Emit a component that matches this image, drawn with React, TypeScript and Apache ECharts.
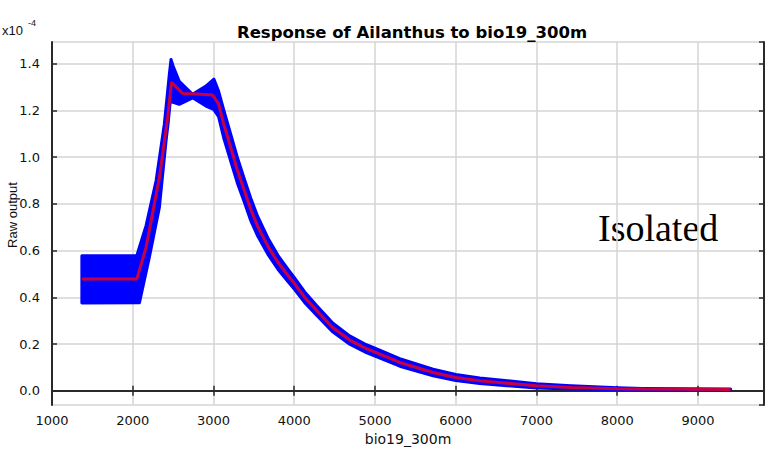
import React, { useEffect, useRef } from 'react';
import * as echarts from 'echarts';

// Mean response (red line), values in units of 1e-4
const meanX = [1370, 2050, 2165, 2330, 2432, 2481, 2540, 2617, 2800, 2990, 3063, 3126, 3210, 3294, 3378, 3462, 3546, 3672, 3798, 3924, 4000, 4130, 4274, 4480, 4687, 4893, 5000, 5307, 5720, 6000, 6298, 7000, 7428, 8000, 8317, 9404];
const meanY = [0.478, 0.478, 0.614, 0.913, 1.169, 1.321, 1.300, 1.273, 1.270, 1.266, 1.228, 1.143, 1.045, 0.946, 0.861, 0.776, 0.705, 0.620, 0.550, 0.493, 0.460, 0.400, 0.345, 0.270, 0.217, 0.180, 0.165, 0.121, 0.078, 0.057, 0.043, 0.021, 0.014, 0.009, 0.007, 0.005];

// Upper envelope of the replicate runs (blue band), left to right
const upperX = [1370, 2050, 2165, 2289, 2391, 2453, 2474, 2500, 2576, 2741, 2906, 3005, 3063, 3126, 3210, 3294, 3378, 3462, 3546, 3672, 3798, 3924, 4000, 4130, 4274, 4480, 4687, 4893, 5000, 5307, 5720, 6000, 6298, 7000, 7428, 8000, 8317, 9404];
const upperY = [0.578, 0.578, 0.707, 0.899, 1.141, 1.354, 1.418, 1.390, 1.325, 1.269, 1.304, 1.334, 1.283, 1.203, 1.103, 1.001, 0.911, 0.824, 0.747, 0.655, 0.580, 0.520, 0.485, 0.423, 0.366, 0.289, 0.235, 0.197, 0.182, 0.137, 0.092, 0.070, 0.055, 0.030, 0.021, 0.013, 0.010, 0.007];

// Lower envelope of the replicate runs, left to right
const lowerX = [1370, 2083, 2206, 2330, 2412, 2440, 2465, 2500, 2576, 2741, 2906, 3000, 3063, 3126, 3210, 3294, 3378, 3462, 3546, 3672, 3798, 3924, 4000, 4130, 4274, 4480, 4687, 4893, 5000, 5307, 5720, 6000, 6298, 7000, 7428, 8000, 8317, 9404];
const lowerY = [0.376, 0.377, 0.572, 0.785, 1.069, 1.15, 1.24, 1.235, 1.226, 1.254, 1.219, 1.205, 1.173, 1.083, 0.987, 0.891, 0.811, 0.728, 0.663, 0.585, 0.520, 0.466, 0.435, 0.377, 0.324, 0.251, 0.199, 0.163, 0.148, 0.105, 0.064, 0.044, 0.031, 0.012, 0.007, 0.005, 0.004, 0.003];

const xMin = 1000;
const xMax = 9818;
const yMin = -0.061;
const yMax = 1.493;

export default function App() {
  const ref = useRef<HTMLDivElement>(null);
  useEffect(() => {
    if (!ref.current) return;
    const chart = echarts.init(ref.current, null, { renderer: 'svg' });
    const axisColor = '#2a2a2a';
    const labelFont = { fontFamily: 'DejaVu Sans', fontSize: 13, color: '#111' };
    const option: any = {
      animation: false,
      backgroundColor: '#fff',
      title: {
        text: 'Response of Ailanthus to bio19_300m',
        left: 407,
        textAlign: 'center',
        top: 19,
        textStyle: { fontFamily: 'DejaVu Sans', fontWeight: 'bold', fontSize: 16.5, color: '#000' },
      },
      grid: { left: 52, right: 4, top: 42, bottom: 46, containLabel: false, outerBoundsMode: 'none' },
      xAxis: [
        {
          type: 'value',
          min: xMin,
          max: xMax,
          interval: 1000,
          name: 'bio19_300m',
          nameLocation: 'middle',
          nameGap: 27,
          nameTextStyle: { ...labelFont, fontSize: 14 },
          axisLine: { show: true, lineStyle: { color: axisColor, width: 2 } },
          axisTick: { show: true, inside: true, length: 5, lineStyle: { color: axisColor, width: 1.5 } },
          axisLabel: {
            ...labelFont,
            margin: 9,
            formatter: (v: number) => (v % 1000 === 0 ? String(v) : ''),
            showMaxLabel: false,
          },
          splitLine: { show: true, lineStyle: { color: '#d4d4d4', width: 1.5 } },
        },
        {
          type: 'value',
          position: 'top',
          min: xMin,
          max: xMax,
          interval: 1000,
          axisLine: { show: true, lineStyle: { color: axisColor, width: 2 } },
          axisTick: { show: true, inside: true, length: 5, lineStyle: { color: axisColor, width: 1.5 } },
          axisLabel: { show: false },
          splitLine: { show: false },
        },
      ],
      yAxis: [
        {
          type: 'value',
          min: yMin,
          max: yMax,
          splitNumber: 8,
          axisLine: { show: true, lineStyle: { color: axisColor, width: 2 } },
          axisTick: { show: true, inside: true, length: 5, lineStyle: { color: axisColor, width: 1.5 } },
          axisLabel: {
            ...labelFont,
            margin: 12,
            showMinLabel: false,
            showMaxLabel: false,
            formatter: (v: number) => {
              const k = Math.round(v / 0.2);
              return Math.abs(v - k * 0.2) < 1e-6 ? v.toFixed(1) : '';
            },
          },
          splitLine: { show: true, lineStyle: { color: '#d4d4d4', width: 1.5 } },
        },
        {
          type: 'value',
          position: 'right',
          min: yMin,
          max: yMax,
          splitNumber: 8,
          axisLine: { show: true, lineStyle: { color: axisColor, width: 2 } },
          axisTick: { show: true, inside: true, length: 5, lineStyle: { color: axisColor, width: 1.5 } },
          axisLabel: { show: false },
          splitLine: { show: false },
        },
      ],
      graphic: [
        {
          type: 'text',
          left: 2,
          top: 24,
          style: { text: 'x10', fontFamily: 'Liberation Sans', fontSize: 13, fill: '#111' },
        },
        {
          type: 'text',
          left: 28,
          top: 18,
          style: { text: '-4', fontFamily: 'Liberation Sans', fontSize: 9, fill: '#111' },
        },
        {
          type: 'text',
          x: 12,
          y: 215,
          rotation: Math.PI / 2,
          style: {
            text: 'Raw output',
            fontFamily: 'Liberation Sans',
            fontSize: 13,
            fill: '#111',
            align: 'center',
            verticalAlign: 'middle',
          },
        },
        {
          type: 'text',
          x: 598,
          y: 228,
          style: {
            text: 'Isolated',
            fontFamily: 'Liberation Serif',
            fontSize: 38,
            fill: '#000',
            verticalAlign: 'middle',
            align: 'left',
          },
        },
      ],
      series: [
        {
          type: 'custom',
          xAxisIndex: 0,
          yAxisIndex: 0,
          data: [[upperX[0], upperY[0]]],
          renderItem: (params: any, api: any) => {
            if (params.dataIndex !== 0) return null;
            const pts: number[][] = [];
            for (let i = 0; i < upperX.length; i++) pts.push(api.coord([upperX[i], upperY[i]]));
            for (let i = lowerX.length - 1; i >= 0; i--) pts.push(api.coord([lowerX[i], lowerY[i]]));
            return {
              type: 'polygon',
              shape: { points: pts },
              style: { fill: '#0000ff', stroke: '#0000ff', lineWidth: 3, lineJoin: 'round' },
            };
          },
          silent: true,
          z: 2,
        },
        {
          type: 'line',
          xAxisIndex: 0,
          yAxisIndex: 0,
          data: meanX.map((x, i) => [x, meanY[i]]),
          showSymbol: false,
          lineStyle: { color: 'rgba(228,0,40,0.88)', width: 3 },
          z: 3,
        },
      ],
    };
    chart.setOption(option);
    return () => chart.dispose();
  }, []);
  return <div ref={ref} style={{ width: 768, height: 451, position: 'absolute', left: 0, top: 0 }} />;
}
